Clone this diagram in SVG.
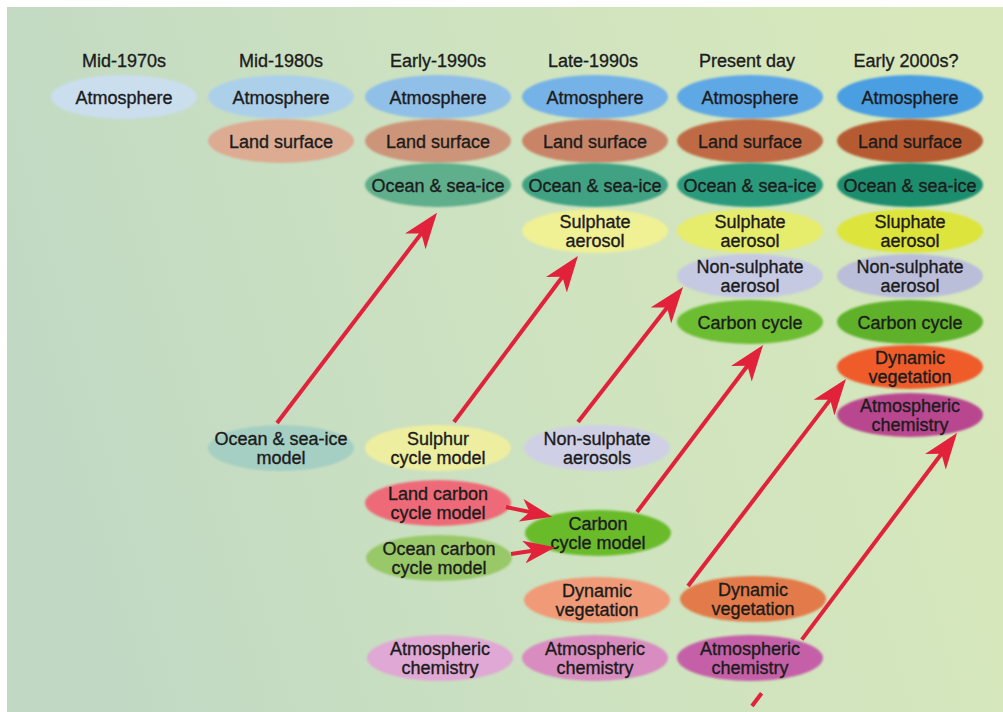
<svg xmlns="http://www.w3.org/2000/svg" width="1003" height="712" viewBox="0 0 1003 712">
<defs>
<linearGradient id="bg" x1="0" y1="0.6" x2="1" y2="0.4">
<stop offset="0" stop-color="#c0d8c4"/>
<stop offset="0.5" stop-color="#cde2c0"/>
<stop offset="1" stop-color="#d8e8bb"/>
</linearGradient>
<filter id="soft" x="-10%" y="-20%" width="120%" height="140%"><feGaussianBlur stdDeviation="1.1"/></filter>
<marker id="ah" viewBox="0 0 36 26" refX="12" refY="13" markerWidth="36" markerHeight="26" markerUnits="userSpaceOnUse" orient="auto">
<path d="M0,0 L36,13 L0,26 L10,13 Z" fill="#e2213a"/>
</marker>
<marker id="ahs" viewBox="0 0 36 26" refX="12" refY="13" markerWidth="32" markerHeight="23" markerUnits="userSpaceOnUse" orient="auto">
<path d="M0,0 L36,13 L0,26 L10,13 Z" fill="#e2213a"/>
</marker>
</defs>
<style>
text{font-family:"Liberation Sans",Arial,sans-serif;font-size:18px;fill:#1c1c1c;stroke:#1c1c1c;stroke-width:0.35;text-anchor:middle}
ellipse{filter:url(#soft)}
.c line{stroke:#e2213a;stroke-width:4;fill:none;marker-end:url(#ah)}
.c line.s{marker-end:url(#ahs)}
</style>
<rect x="7" y="7" width="996" height="705" fill="url(#bg)"/>

<g id="headers">
<text x="124" y="67">Mid-1970s</text>
<text x="281" y="67">Mid-1980s</text>
<text x="438" y="67">Early-1990s</text>
<text x="593" y="67">Late-1990s</text>
<text x="747" y="67">Present day</text>
<text x="906" y="67">Early 2000s?</text>
</g>

<!-- Mid-1970s -->
<g id="n1-atm"><ellipse cx="124" cy="97" rx="73" ry="22" fill="#cadeee"/><text x="124" y="103.5">Atmosphere</text></g>
<!-- Mid-1980s -->
<g id="n2-atm"><ellipse cx="281" cy="97" rx="73" ry="22" fill="#acd0ea"/><text x="281" y="103.5">Atmosphere</text></g>
<g id="n2-land"><ellipse cx="281" cy="141" rx="73" ry="22" fill="#dcab92"/><text x="281" y="147.5">Land surface</text></g>
<!-- Early-1990s -->
<g id="n3-atm"><ellipse cx="438" cy="97" rx="73" ry="22" fill="#90bfe8"/><text x="438" y="103.5">Atmosphere</text></g>
<g id="n3-land"><ellipse cx="438" cy="141" rx="73" ry="22" fill="#cc9479"/><text x="438" y="147.5">Land surface</text></g>
<g id="n3-ocean"><ellipse cx="438" cy="185" rx="73" ry="22" fill="#5fae8c"/><text x="438" y="191.5">Ocean &amp; sea-ice</text></g>
<!-- Late-1990s -->
<g id="n4-atm"><ellipse cx="595" cy="97" rx="73" ry="22" fill="#74b2e8"/><text x="595" y="103.5">Atmosphere</text></g>
<g id="n4-land"><ellipse cx="595" cy="141" rx="73" ry="22" fill="#c98468"/><text x="595" y="147.5">Land surface</text></g>
<g id="n4-ocean"><ellipse cx="595" cy="185" rx="73" ry="22" fill="#40a283"/><text x="595" y="191.5">Ocean &amp; sea-ice</text></g>
<g id="n4-sulph"><ellipse cx="595" cy="231" rx="73" ry="22" fill="#f0f094"/><text x="595" y="228">Sulphate</text><text x="595" y="247">aerosol</text></g>
<!-- Present day -->
<g id="n5-atm"><ellipse cx="750" cy="97" rx="73" ry="22" fill="#5ea8e6"/><text x="750" y="103.5">Atmosphere</text></g>
<g id="n5-land"><ellipse cx="750" cy="141" rx="73" ry="22" fill="#c06a44"/><text x="750" y="147.5">Land surface</text></g>
<g id="n5-ocean"><ellipse cx="750" cy="185" rx="73" ry="22" fill="#299a7c"/><text x="750" y="191.5">Ocean &amp; sea-ice</text></g>
<g id="n5-sulph"><ellipse cx="750" cy="231" rx="73" ry="22" fill="#e6ec6c"/><text x="750" y="228">Sulphate</text><text x="750" y="247">aerosol</text></g>
<g id="n5-nonsulph"><ellipse cx="750" cy="276" rx="73" ry="22" fill="#c6c9e2"/><text x="750" y="273">Non-sulphate</text><text x="750" y="292">aerosol</text></g>
<g id="n5-carbon"><ellipse cx="750" cy="322" rx="73" ry="22" fill="#6cbd30"/><text x="750" y="328.5">Carbon cycle</text></g>
<!-- Early 2000s? -->
<g id="n6-atm"><ellipse cx="910" cy="97" rx="73" ry="22" fill="#4a9fe2"/><text x="910" y="103.5">Atmosphere</text></g>
<g id="n6-land"><ellipse cx="910" cy="141" rx="73" ry="22" fill="#b65a33"/><text x="910" y="147.5">Land surface</text></g>
<g id="n6-ocean"><ellipse cx="910" cy="185" rx="73" ry="22" fill="#1e8e6e"/><text x="910" y="191.5">Ocean &amp; sea-ice</text></g>
<g id="n6-sulph"><ellipse cx="910" cy="231" rx="73" ry="22" fill="#dde43a"/><text x="910" y="228">Sluphate</text><text x="910" y="247">aerosol</text></g>
<g id="n6-nonsulph"><ellipse cx="910" cy="276" rx="73" ry="22" fill="#babed9"/><text x="910" y="273">Non-sulphate</text><text x="910" y="292">aerosol</text></g>
<g id="n6-carbon"><ellipse cx="910" cy="322" rx="73" ry="22" fill="#5fb12a"/><text x="910" y="328.5">Carbon cycle</text></g>
<g id="n6-dynveg"><ellipse cx="910" cy="367" rx="73" ry="22" fill="#ef5b2c"/><text x="910" y="364">Dynamic</text><text x="910" y="383">vegetation</text></g>
<g id="n6-chem"><ellipse cx="910" cy="415" rx="73" ry="22" fill="#b9468f"/><text x="910" y="412">Atmospheric</text><text x="910" y="431">chemistry</text></g>

<!-- lower models -->
<g id="m-ocean"><ellipse cx="281" cy="448" rx="73" ry="23" fill="#a4cfc2"/><text x="281" y="444.5">Ocean &amp; sea-ice</text><text x="281" y="463.5">model</text></g>
<g id="m-sulphur"><ellipse cx="438" cy="448" rx="73" ry="23" fill="#eeeea0"/><text x="438" y="444.5">Sulphur</text><text x="438" y="463.5">cycle model</text></g>
<g id="m-nonsulph"><ellipse cx="597" cy="448" rx="73" ry="23" fill="#cfd0e6"/><text x="597" y="444.5">Non-sulphate</text><text x="597" y="463.5">aerosols</text></g>
<g id="m-landcarbon"><ellipse cx="438" cy="503" rx="73" ry="23" fill="#ee6a78"/><text x="438" y="499.5">Land carbon</text><text x="438" y="518.5">cycle model</text></g>
<g id="m-oceancarbon"><ellipse cx="439" cy="558" rx="73" ry="23" fill="#98c868"/><text x="439" y="554.5">Ocean carbon</text><text x="439" y="573.5">cycle model</text></g>
<g id="m-carbon"><ellipse cx="598" cy="533" rx="73" ry="23" fill="#6abb2a"/><text x="598" y="529.5">Carbon</text><text x="598" y="548.5">cycle model</text></g>
<g id="m-dynveg4"><ellipse cx="597" cy="600" rx="73" ry="23" fill="#f09a78"/><text x="597" y="596.5">Dynamic</text><text x="597" y="615.5">vegetation</text></g>
<g id="m-chem3"><ellipse cx="440" cy="658" rx="73" ry="23" fill="#e0a8d4"/><text x="440" y="654.5">Atmospheric</text><text x="440" y="673.5">chemistry</text></g>
<g id="m-chem4"><ellipse cx="595" cy="658" rx="73" ry="23" fill="#d88cc0"/><text x="595" y="654.5">Atmospheric</text><text x="595" y="673.5">chemistry</text></g>
<g id="m-dynveg5"><ellipse cx="753" cy="599" rx="73" ry="23" fill="#e37a48"/><text x="753" y="595.5">Dynamic</text><text x="753" y="614.5">vegetation</text></g>

<g id="connectors" class="c">
<line x1="277" y1="423" x2="422.5" y2="231.9"/>
<line x1="454" y1="422" x2="563.6" y2="275.2"/>
<line x1="578" y1="422" x2="668.3" y2="305.9"/>
<line x1="637" y1="512" x2="748.6" y2="364.2"/>
<line x1="688" y1="586" x2="831.4" y2="398.1"/>
<line x1="752" y1="706" x2="942.6" y2="452.2" stroke-dasharray="16 67 400"/>
<line class="s" x1="506" y1="507" x2="531.5" y2="512.4"/>
<line class="s" x1="511" y1="554" x2="534.3" y2="550.4"/>
</g>

<g id="m-chem5"><ellipse cx="750" cy="658" rx="73" ry="23" fill="#c560a8"/><text x="750" y="654.5">Atmospheric</text><text x="750" y="673.5">chemistry</text></g>
</svg>
